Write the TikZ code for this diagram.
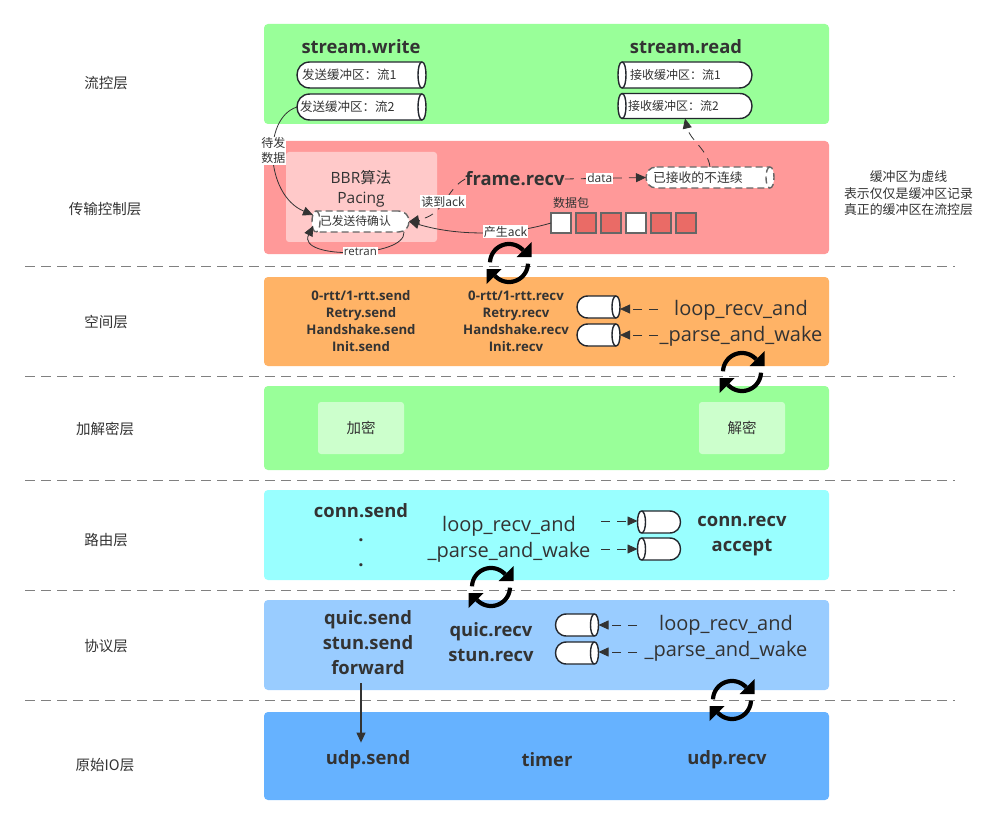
\documentclass[tikz,border=0pt]{standalone}
\usepackage{fontspec}
\setmainfont{Open Sans}
\newfontfamily\cjk{Noto Sans CJK SC}
\usetikzlibrary{arrows.meta,calc}
\definecolor{ink}{HTML}{333333}
\definecolor{inkdark}{HTML}{23272E}
\definecolor{cellred}{HTML}{EA6B66}
\definecolor{lgreen}{HTML}{99FF99}
\definecolor{lred}{HTML}{FF9999}
\definecolor{lorange}{HTML}{FFB366}
\definecolor{lcyan}{HTML}{99FFFF}
\definecolor{lblue}{HTML}{99CCFF}
\definecolor{mblue}{HTML}{66B2FF}
\tikzset{
  x=1pt,y=-1pt,
  band/.style={fill=#1,draw=none,rounded corners=4pt},
  tier/.style={text=ink,font=\cjk\fontsize{14.5}{17}\selectfont,inner sep=0pt},
  sep/.style={draw=black!50,dash pattern=on 10pt off 6pt,line width=.9pt},
  title/.style={text=ink,font=\bfseries\fontsize{18.4}{25}\selectfont,inner sep=0pt,align=center},
  plain/.style={text=ink,font=\fontsize{20}{25.5}\selectfont,inner sep=0pt,align=center},
  layername/.style={text=ink,font=\bfseries\fontsize{13.2}{17}\selectfont,inner sep=0pt,align=center},
  bufline/.style={fill=white,draw=inkdark,line width=1.4pt},
  bufdash/.style={draw=black!60,dash pattern=on 7pt off 4pt},
  buftext/.style={text=ink,font=\cjk\fontsize{12.5}{15}\selectfont,inner sep=0pt,outer sep=0pt,align=left},
  link/.style={draw=ink,line width=.8pt,-{Triangle[length=10pt,width=9pt]}},
  dlink/.style={link,dash pattern=on 9pt off 7pt},
  tag/.style={fill=white,text=ink,inner sep=1pt,font=\cjk\fontsize{12}{15}\selectfont,align=center},
  cell/.style={draw=black!60,line width=1.2pt,minimum size=20pt,inner sep=0pt,outer sep=0pt},
  glass/.style={fill=white,fill opacity=.5,text opacity=1,rounded corners=3pt,minimum width=86pt,minimum height=52pt},
}
% buffer drum: rounded at one end, open ellipse at the other
% [outline options]{name}{cx}{cy}{width}{height}{1 or -1}{text inset}{text}
\newcommand{\bufnode}[9][]{%
  \pgfmathsetmacro\bufr{#6/2}%
  \pgfmathsetmacro\bufa{-#5/2+\bufr}%
  \pgfmathsetmacro\bufb{\bufa-1.333*\bufr}%
  \pgfmathsetmacro\bufe{#5/2-4}%
  \pgfmathsetmacro\bufo{\bufe+5.33}%
  \pgfmathsetmacro\bufi{\bufe-5.33}%
  \pgfmathsetmacro\buft{#5-2*#8}%
  \begin{scope}[shift={(#3,#4)},xscale=#7]
    \path[bufline,#1] (\bufa,-\bufr) -- (\bufe,-\bufr)
      .. controls (\bufo,-\bufr) and (\bufo,\bufr) .. (\bufe,\bufr)
      -- (\bufa,\bufr)
      .. controls (\bufb,\bufr) and (\bufb,-\bufr) .. (\bufa,-\bufr) -- cycle;
    \path[bufline,fill=none,#1] (\bufe,-\bufr)
      .. controls (\bufi,-\bufr) and (\bufi,\bufr) .. (\bufe,\bufr);
  \end{scope}
  \node[buftext,minimum width=#5pt,minimum height=#6pt,text width=\buft pt] (#2) at (#3,#4) {#9};}
% circular refresh symbol built from two opposing arcs
\newcommand{\refreshmark}[1]{%
  \begin{scope}[shift={(#1)}]
    \draw[line width=4.2pt,black] plot[smooth,domain=-178:-42,samples=24] ({19*cos(\x)},{19*sin(\x)});
    \draw[line width=4.2pt,black] plot[smooth,domain=2:138,samples=24] ({19*cos(\x)},{19*sin(\x)});
    \fill[black] (22.5,-21) -- (22.5,-6) -- (7.5,-6) -- cycle;
    \fill[black] (-22.5,21) -- (-22.5,6) -- (-7.5,6) -- cycle;
  \end{scope}}
\begin{document}
\begin{tikzpicture}
\useasboundingbox (0,0) rectangle (1005,824);
\fill[white] (0,0) rectangle (1005,824);

% layer bands
\fill[band=lgreen] (264,24) rectangle (829,124);
\fill[band=lred] (264,141) rectangle (829,254);
\fill[band=lorange] (264,277) rectangle (829,366);
\fill[band=lgreen] (264,386) rectangle (829,470);
\fill[band=lcyan] (264,490) rectangle (829,580);
\fill[band=lblue] (264,600) rectangle (829,690);
\fill[band=mblue] (264,712) rectangle (829,800);

% separators
\foreach \yy in {266,376,480,590,700}
  \draw[sep] (25,\yy) -- (955,\yy);

% layer names
\node[tier] (t1) at (106,83) {流控层};
\node[tier] (t2) at (105,209.5) {传输控制层};
\node[tier] (t3) at (106,322) {空间层};
\node[tier] (t4) at (105,428.5) {加解密层};
\node[tier] (t5) at (106,540.5) {路由层};
\node[tier] (t6) at (106,646) {协议层};
\node[tier] (t7) at (105,765.5) {原始IO层};

% side note
\node[tier,align=center,font=\cjk\fontsize{12.9}{16.5}\selectfont] (note) at (908.5,193.5) {缓冲区为虚线\\表示仅仅是缓冲区记录\\真正的缓冲区在流控层};

% stream layer
\node[title] (swrite) at (361,47) {stream.write};
\node[title] (sread) at (686,47) {stream.read};
\bufnode{s1}{361.5}{75}{129}{26}{1}{5}{发送缓冲区：流1}
\bufnode{s2}{361.5}{107}{129}{26}{1}{3}{发送缓冲区：流2}
\bufnode{r1}{685}{75}{134}{26}{-1}{12}{\fontsize{12}{15}\selectfont 接收缓冲区：流1}
\bufnode{r2}{685}{106}{134}{25}{-1}{10}{\fontsize{12}{15}\selectfont 接收缓冲区：流2}

% transport control layer
\fill[white,opacity=.47,rounded corners=3pt] (286,152) rectangle (437,242);
\node[plain,font=\fontsize{15.5}{19.5}\selectfont] (bbr) at (361,189) {BBR{\cjk 算法}\\Pacing};
\bufnode[bufdash]{sent}{360.5}{221.5}{97}{21}{-1}{8}{\fontsize{11.8}{15}\selectfont 已发送待确认}
\node[title] (frecv) at (515,179) {frame.recv};
\bufnode[bufdash]{unack}{710}{177.5}{128}{21}{1}{7}{\fontsize{12.8}{15}\selectfont 已接收的不连续}
\node[buftext,font=\cjk\fontsize{12}{14}\selectfont] (pk) at (571,203) {数据包};
\node[cell,fill=white] (c1) at (561,223) {};
\node[cell,fill=cellred] (c2) at (586,223) {};
\node[cell,fill=cellred] (c3) at (611,223) {};
\node[cell,fill=white] (c4) at (636,223) {};
\node[cell,fill=cellred] (c5) at (661,223) {};
\node[cell,fill=cellred] (c6) at (686,223) {};

\coordinate (sentLT) at (313,215);
\coordinate (sentLB) at (313,226);
\coordinate (sentRB) at (404,232);
\draw[link] (s2.west) .. controls (262,118) and (265,195) .. node[tag,pos=.45]{待发\\数据} (sentLT);
\draw[link] (sentRB) .. controls (406,258) and (296,260) .. node[tag,font=\fontsize{11.5}{13}\selectfont,pos=.45]{retran} (sentLB);
\draw[dlink] (frecv.west) .. controls (445,190) and (445,215) .. node[tag,pos=.5]{读到ack} (sent.east);
\draw[link] (c1.west) .. controls (500,238) and (450,234) .. node[tag,pos=.3]{产生ack} (sent.east);
\draw[dlink] (frecv.east) -- node[tag,font=\fontsize{12}{14}\selectfont,pos=.43]{data} (unack.west);
\draw[dlink] (unack.north) .. controls (708,150) and (690,140) .. (r2.south);

% space layer
\node[layername] (ssend) at (361,321) {0-rtt/1-rtt.send\\Retry.send\\Handshake.send\\Init.send};
\node[layername] (srecv) at (516,321) {0-rtt/1-rtt.recv\\Retry.recv\\Handshake.recv\\Init.recv};
\bufnode{b1}{598.5}{307}{43}{22}{1}{2}{}
\bufnode{b2}{598.5}{335}{43}{22}{1}{2}{}
\node[plain] (lp1) at (741,323.5) {loop\_recv\_and\\\_parse\_and\_wake};
\coordinate (lp1a) at (658,309);
\coordinate (lp1b) at (658,335);
\draw[dlink] (lp1a) -- (lp1a -| b1.east);
\draw[dlink] (lp1b) -- (lp1b -| b2.east);

% crypto layer
\node[glass,tier] (enc) at (361,428) {加密};
\node[glass,tier] (dec) at (742,428) {解密};

% routing layer
\node[title] (csend) at (361,511) {conn.send};
\node[title] (d1) at (361,540) {.};
\node[title] (d2) at (361,565) {.};
\node[plain] (lp2) at (509,539.5) {loop\_recv\_and\\\_parse\_and\_wake};
\bufnode{b3}{659}{522}{43}{22}{-1}{2}{}
\bufnode{b4}{659}{549}{43}{22}{-1}{2}{}
\coordinate (lp2a) at (601,521);
\coordinate (lp2b) at (601,549);
\draw[dlink] (lp2a) -- (lp2a -| b3.west);
\draw[dlink] (lp2b) -- (lp2b -| b4.west);
\node[title] (crecv) at (742,536.5) {conn.recv\\accept};

% protocol layer
\node[title] (qsend) at (368,643) {quic.send\\stun.send\\forward};
\node[title] (qrecv) at (491,642) {quic.recv\\stun.recv};
\bufnode{b5}{577}{625}{43}{22}{1}{2}{}
\bufnode{b6}{577}{653}{43}{22}{1}{2}{}
\node[plain] (lp3) at (726,638.5) {loop\_recv\_and\\\_parse\_and\_wake};
\coordinate (lp3a) at (637,625);
\coordinate (lp3b) at (637,652);
\draw[dlink] (lp3a) -- (lp3a -| b5.east);
\draw[dlink] (lp3b) -- (lp3b -| b6.east);

% raw IO layer
\node[title] (usend) at (368,760) {udp.send};
\node[title] (timer) at (547,760) {timer};
\node[title] (urecv) at (727,760) {udp.recv};
\coordinate (qs) at (361,683);
\draw[link,line width=1.1pt,shorten >=8pt] (qs) -- (usend.north -| qs);

% refresh marks
\refreshmark{509,263}
\refreshmark{742,372}
\refreshmark{491,587}
\refreshmark{732,700}
\end{tikzpicture}
\end{document}
